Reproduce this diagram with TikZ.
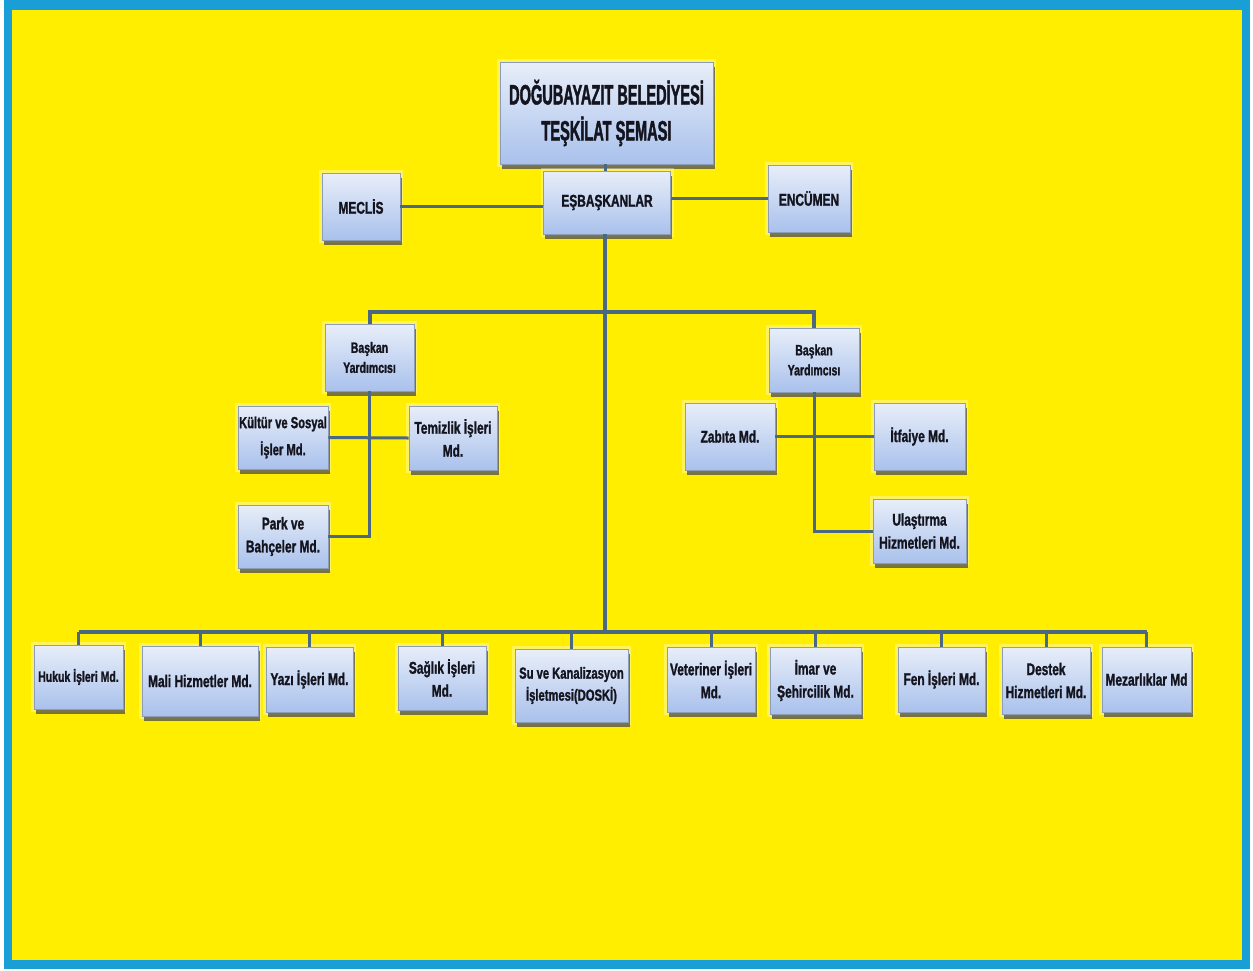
\documentclass[tikz,border=0pt]{standalone}
\usepackage{fontspec}
\newfontfamily\boxfont{Liberation Sans}[UprightFont={* Bold}, FakeStretch=0.7, FakeBold=1.3]
\newfontfamily\titlefont{Liberation Sans}[UprightFont={* Bold}, FakeStretch=0.52, FakeBold=1.5]
\usetikzlibrary{shadows}
\definecolor{frame}{HTML}{1A9ED6}
\definecolor{bg}{HTML}{FFEE00}
\definecolor{conncol}{HTML}{4A6880}
\definecolor{boxtop}{HTML}{E8EEF9}
\definecolor{boxbot}{HTML}{A9C1EC}
\definecolor{boxdraw}{HTML}{8C9DB5}
\definecolor{ink}{HTML}{14141E}
\tikzset{
  box/.style={rectangle, draw=boxdraw, line width=0.8pt, top color=boxtop, bottom color=boxbot,
    text=ink, align=center, font=\boxfont\fontsize{17}{23}\selectfont, inner sep=1pt,
    preaction={draw=white, line width=6pt, opacity=0.35},
    drop shadow={shadow xshift=1.5pt, shadow yshift=-5pt, fill=black!70, opacity=0.75}},
  small/.style={font=\boxfont\fontsize{15}{20}\selectfont},
  conn/.style={draw=conncol, line width=3pt},
  bus/.style={draw=conncol, line width=4pt},
}
\begin{document}
\begin{tikzpicture}[x=1pt,y=-1pt]
\useasboundingbox (0,0) rectangle (1253,970);
\fill[white] (0,0) rectangle (1253,970);
\fill[frame] (4,0) rectangle (1250,969);
\fill[bg] (12,10) rectangle (1242,960);

% top level
\node[box, minimum width=213pt, minimum height=102pt, font=\titlefont\fontsize{28}{36}\selectfont] (title) at (606.5,113) {DOĞUBAYAZIT BELEDİYESİ\\TEŞKİLAT ŞEMASI};
\node[box, minimum width=127pt, minimum height=63pt] (esb) at (607,202.5) {EŞBAŞKANLAR};
\node[box, minimum width=78pt, minimum height=67pt] (meclis) at (361,206.5) {MECLİS};
\node[box, minimum width=82pt, minimum height=67pt] (encumen) at (809,198.5) {ENCÜMEN};

% deputies
\node[box, small, minimum width=89pt, minimum height=67pt] (by1) at (369.5,357.5) {Başkan\\Yardımcısı};
\node[box, small, minimum width=90pt, minimum height=64pt] (by2) at (814,360) {Başkan\\Yardımcısı};

% left subtree
\node[box, minimum width=90pt, minimum height=63pt, font=\boxfont\fontsize{16}{27}\selectfont] (kultur) at (283,437.5) {Kültür ve Sosyal\\İşler Md.};
\node[box, minimum width=88pt, minimum height=64pt] (temizlik) at (453,438) {Temizlik İşleri\\Md.};
\node[box, minimum width=90pt, minimum height=63pt] (park) at (283,536.5) {Park ve\\Bahçeler Md.};

% right subtree
\node[box, minimum width=90pt, minimum height=67pt] (zabita) at (730,436.5) {Zabıta Md.};
\node[box, minimum width=91pt, minimum height=67pt] (itfaiye) at (919.5,436.5) {İtfaiye Md.};
\node[box, minimum width=93pt, minimum height=64pt] (ulastirma) at (919.5,531) {Ulaştırma\\Hizmetleri Md.};

% bottom row
\node[box, small, minimum width=89pt, minimum height=64pt] (hukuk) at (78.5,677) {Hukuk İşleri Md.};
\node[box, minimum width=116pt, minimum height=70pt] (mali) at (200,681) {Mali Hizmetler Md.};
\node[box, minimum width=87pt, minimum height=65pt] (yazi) at (309.5,679.5) {Yazı İşleri Md.};
\node[box, minimum width=88pt, minimum height=64pt] (saglik) at (442,678) {Sağlık İşleri\\Md.};
\node[box, minimum width=113pt, minimum height=73pt, font=\boxfont\fontsize{16}{22}\selectfont] (su) at (571.5,685.5) {Su ve Kanalizasyon\\İşletmesi(DOSKİ)};
\node[box, minimum width=88pt, minimum height=65pt] (veteriner) at (711,679.5) {Veteriner İşleri\\Md.};
\node[box, minimum width=91pt, minimum height=67pt] (imar) at (815.5,680.5) {İmar ve\\Şehircilik Md.};
\node[box, minimum width=87pt, minimum height=65pt] (fen) at (941.5,679.5) {Fen İşleri Md.};
\node[box, minimum width=88pt, minimum height=67pt] (destek) at (1046,680.5) {Destek\\Hizmetleri Md.};
\node[box, minimum width=89pt, minimum height=65pt] (mezar) at (1146.5,679.5) {Mezarlıklar Md};

\coordinate (upbus) at (605,312);
\coordinate (lowbus) at (605,632);

% connectors
\draw[conn] (title.south -| 605,0) -- (esb.north -| 605,0);
\draw[conn] (meclis.east) -- (meclis.east -| esb.west);
\draw[conn] (esb.east |- encumen.west) -- (encumen.west);
\draw[bus] (esb.south -| lowbus) -- (lowbus);
\draw[bus] (by1.north) |- (upbus) -| (by2.north);
\draw[conn] (by1.south) |- (park.east);
\draw[conn] (kultur.east) -- (temizlik.west);
\draw[conn] (by2.south) |- (ulastirma.west);
\draw[conn] (zabita.east) -- (itfaiye.west);
\draw[bus] (hukuk.north |- lowbus) -- (mezar.north |- lowbus);
\foreach \n in {hukuk,mali,yazi,saglik,su,veteriner,imar,fen,destek,mezar}
  \draw[conn] (\n.north) -- (\n.north |- lowbus);
\end{tikzpicture}
\end{document}
